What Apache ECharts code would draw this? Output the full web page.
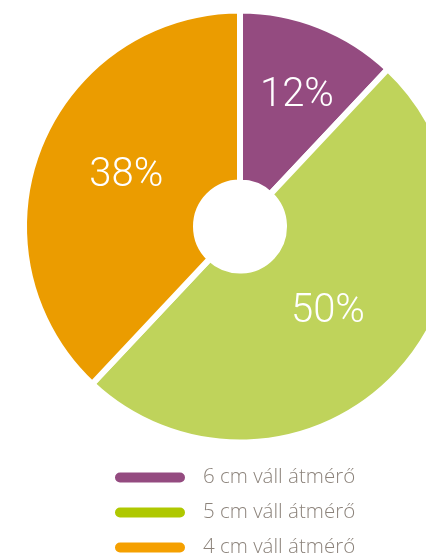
<!DOCTYPE html>
<html>
<head>
<meta charset="utf-8">
<script src="https://cdn.jsdelivr.net/npm/echarts@6/dist/echarts.min.js"></script>
<style>
  html, body { margin: 0; padding: 0; background: #fff; }
  #chart { width: 426px; height: 558px; }
</style>
</head>
<body>
<div id="chart"></div>
<script>
const categories = ['6 cm váll átmérő', '5 cm váll átmérő', '4 cm váll átmérő']
const values = [12, 50, 38]
const sliceColors = ['#944b80', '#bfd35b', '#eb9c00']
const legendColors = ['#944b80', '#afc800', '#f5a000']
// small nudges so the labels sit where the original has them
const labelShift = [[8, -7], [-9, -6], [10, -2]]

const chart = echarts.init(document.getElementById('chart'))

chart.setOption({
  backgroundColor: '#fff',
  animation: false,
  legend: {
    orient: 'vertical',
    left: 113,
    top: 467,
    height: 120,
    padding: 0,
    itemWidth: 72,
    itemHeight: 12,
    itemGap: 14,
    icon: 'path://M6,0 H66 A6,6 0 0 1 66,12 H6 A6,6 0 0 1 6,0 Z',
    selectedMode: false,
    textStyle: {
      color: '#8c837b',
      fontSize: 20.5,
      lineHeight: 20,
      fontFamily: 'Open Sans',
      fontWeight: 300,
      padding: [0, 0, 0, 12]
    },
    data: categories.map((name, i) => ({ name, itemStyle: { color: legendColors[i] } }))
  },
  series: [{
    type: 'pie',
    center: [240, 226.5],
    radius: [44, 216],
    startAngle: 90,
    clockwise: true,
    silent: true,
    itemStyle: { borderColor: '#fff', borderWidth: 6 },
    label: {
      position: 'inside',
      formatter: '{c}%',
      color: '#fff',
      fontSize: 40,
      fontFamily: 'Roboto',
      fontWeight: 300
    },
    labelLine: { show: false },
    labelLayout: (params) => ({
      dx: labelShift[params.dataIndex][0],
      dy: labelShift[params.dataIndex][1]
    }),
    data: categories.map((name, i) => ({
      name,
      value: values[i],
      itemStyle: { color: sliceColors[i] }
    }))
  }]
})
</script>
</body>
</html>
